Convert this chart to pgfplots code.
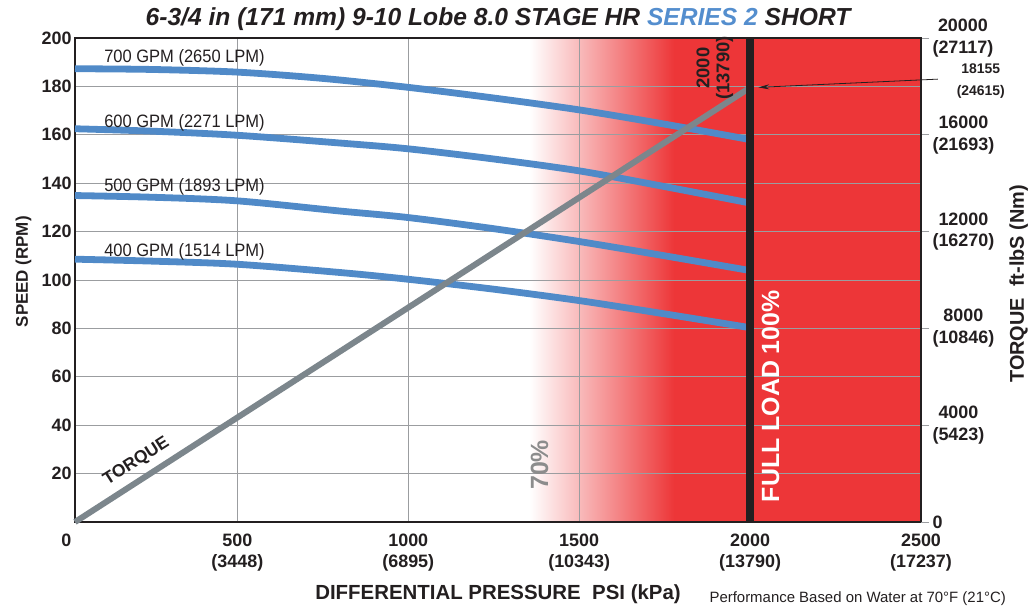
\documentclass[border=0pt]{standalone}
\usepackage{fontspec}
\setmainfont{Liberation Sans}
\usepackage{pgfplots}
\usepackage{pgfplotstable}
\pgfplotsset{compat=1.18}
\usetikzlibrary{arrows.meta}

\definecolor{redzone}{RGB}{237,54,56}
\definecolor{curveblue}{RGB}{80,138,200}
\definecolor{torquegray}{RGB}{124,134,140}
\definecolor{gridgray}{RGB}{155,157,160}
\definecolor{darkline}{RGB}{35,31,32}
\definecolor{titleblue}{RGB}{84,142,206}
\definecolor{seventy}{RGB}{140,140,140}

\pgfplotstableread{
psi rpm
25 187.3
250 187.0
500 185.9
750 183.3
1000 179.6
1250 175.2
1500 170.3
1750 164.4
2000 158.0
}\gpmseven
\pgfplotstableread{
psi rpm
25 162.5
250 161.5
500 159.8
800 156.6
1000 154.2
1250 150.0
1500 145.1
1750 138.6
2000 131.8
}\gpmsix
\pgfplotstableread{
psi rpm
25 134.9
250 134.2
500 132.7
800 128.5
1000 125.8
1250 121.2
1500 115.9
1750 110.0
2000 103.9
}\gpmfive
\pgfplotstableread{
psi rpm
25 108.6
250 107.8
500 106.5
800 103.1
1000 100.3
1250 96.2
1500 91.5
1750 86.0
2000 80.3
}\gpmfour
\pgfplotstableread{
psi torque
25 0
2000 17950
}\torquetab

\newcommand{\tickfont}{\fontsize{18}{22}\selectfont\bfseries}
\newcommand{\curvefont}{\fontsize{18}{20}\selectfont\addfontfeatures{FakeStretch=0.92}}

\begin{document}
\begin{tikzpicture}
\useasboundingbox (-75bp,-87bp) rectangle (955bp,522bp);
\pgfplotsset{common/.style={scale only axis, width=846bp, height=484bp,
  xmin=25, xmax=2500, at={(0,0)}, anchor=south west}}

% background zones
\begin{axis}[common, ymin=0, ymax=200, hide axis]
\addplot[draw=none, fill=redzone] coordinates {(1776,0) (2500,0) (2500,200) (1776,200)};
\addplot[draw=none, left color=white, right color=redzone] coordinates {(1355,0) (1778,0) (1778,200) (1355,200)};
\end{axis}

% speed axis
\begin{axis}[common, ymin=0, ymax=200, clip=false,
  axis line style={draw=darkline, line width=1.6bp},
  xtick={500,1000,1500,2000,2500},
  xticklabels={{500\\(3448)},{1000\\(6895)},{1500\\(10343)},{2000\\(13790)},{2500\\(17237)}},
  ytick={20,40,60,80,100,120,140,160,180,200},
  yticklabels={20,40,60,80,100,120,140,160,180,200},
  ticklabel style={font=\tickfont, text=darkline},
  xticklabel style={align=center, yshift=-8bp},
  major tick length=0pt,
  grid=major, major grid style={draw=gridgray, line width=0.9bp},
  title={6-3/4 in (171 mm) 9-10 Lobe 8.0 STAGE HR {\color{titleblue}SERIES 2} SHORT},
  title style={at={(axis description cs:0.5,1)}, anchor=base, yshift=7bp,
    font=\fontsize{24.7}{27}\selectfont\bfseries\itshape, text=darkline},
  xlabel={DIFFERENTIAL PRESSURE\ \ PSI (kPa)},
  xlabel style={at={(axis description cs:0.5,0)}, anchor=base, yshift=-77bp,
    font=\fontsize{20.5}{22}\selectfont\bfseries, text=darkline},
  ylabel={SPEED (RPM)},
  ylabel style={at={(axis description cs:-0.0556,0.517)}, anchor=base,
    font=\fontsize{17}{19}\selectfont\bfseries, text=darkline},
]
\addplot[curveblue, line width=6.8bp, smooth] table[x=psi, y=rpm] {\gpmseven};
\addplot[curveblue, line width=6.8bp, smooth] table[x=psi, y=rpm] {\gpmsix};
\addplot[curveblue, line width=6.8bp, smooth] table[x=psi, y=rpm] {\gpmfive};
\addplot[curveblue, line width=6.8bp, smooth] table[x=psi, y=rpm] {\gpmfour};
\node[anchor=base west, font=\curvefont, text=darkline, inner sep=0pt] at (axis cs:110,189.7) {700 GPM (2650 LPM)};
\node[anchor=base west, font=\curvefont, text=darkline, inner sep=0pt] at (axis cs:110,163.2) {600 GPM (2271 LPM)};
\node[anchor=base west, font=\curvefont, text=darkline, inner sep=0pt] at (axis cs:110,136.4) {500 GPM (1893 LPM)};
\node[anchor=base west, font=\curvefont, text=darkline, inner sep=0pt] at (axis cs:110,109.6) {400 GPM (1514 LPM)};
\node[anchor=north, font=\tickfont, text=darkline, yshift=-8bp] at (axis cs:0,0) {0};
\node[rotate=90, font=\fontsize{25}{27}\selectfont\bfseries, text=seventy] at (axis cs:1384,23.6) {70\%};
\node[anchor=base west, font=\fontsize{15}{17}\selectfont, text=darkline] at (axis description cs:0.7459,-0.1653) {Performance Based on Water at 70°F (21°C)};
\end{axis}

% torque axis
\begin{axis}[common, ymin=0, ymax=20000, clip=false,
  axis x line=none, axis y line*=right,
  scaled y ticks=false,
  axis line style={draw=darkline, line width=1.6bp},
  ytick={0,4000,8000,12000,16000,20000},
  yticklabels={0,{4000\\(5423)},{8000\\(10846)},{12000\\(16270)},{16000\\(21693)},{20000\\(27117)}},
  yticklabel style={font=\tickfont, text=darkline, align=center, anchor=west},
  tick align=outside, major tick length=8bp,
  tick style={draw=gridgray, line width=0.9bp},
  ylabel={TORQUE\ \ ft-lbS (Nm)},
  ylabel style={at={(axis description cs:1.1217,0.492)}, anchor=base,
    font=\fontsize{20}{22}\selectfont\bfseries, text=darkline},
]
\addplot[torquegray, line width=6bp] table[x=psi, y=torque] {\torquetab};
\addplot[darkline, line width=8.5bp] coordinates {(2000,0) (2000,20000)};
\node[rotate=90, font=\fontsize{25}{27}\selectfont\bfseries, text=white] at (axis cs:2060,5200) {FULL LOAD 100\%};
\node[rotate=90, align=center, font=\fontsize{18.5}{20}\selectfont\bfseries, text=darkline] at (axis cs:1897,18760) {2000\\(13790)};
\node[align=center, font=\fontsize{14}{22}\selectfont\bfseries, text=darkline] at (axis cs:2675,18220) {18155\\(24615)};
\draw[-{Stealth[length=11bp,width=5bp]}, line width=0.8bp, darkline] (axis cs:2549,18300) -- (axis cs:2024,17960);
\node[rotate=32.7, font=\fontsize{17.5}{19}\selectfont\bfseries, text=darkline] at (axis cs:205,2500) {TORQUE};
\end{axis}
\end{tikzpicture}
\end{document}
